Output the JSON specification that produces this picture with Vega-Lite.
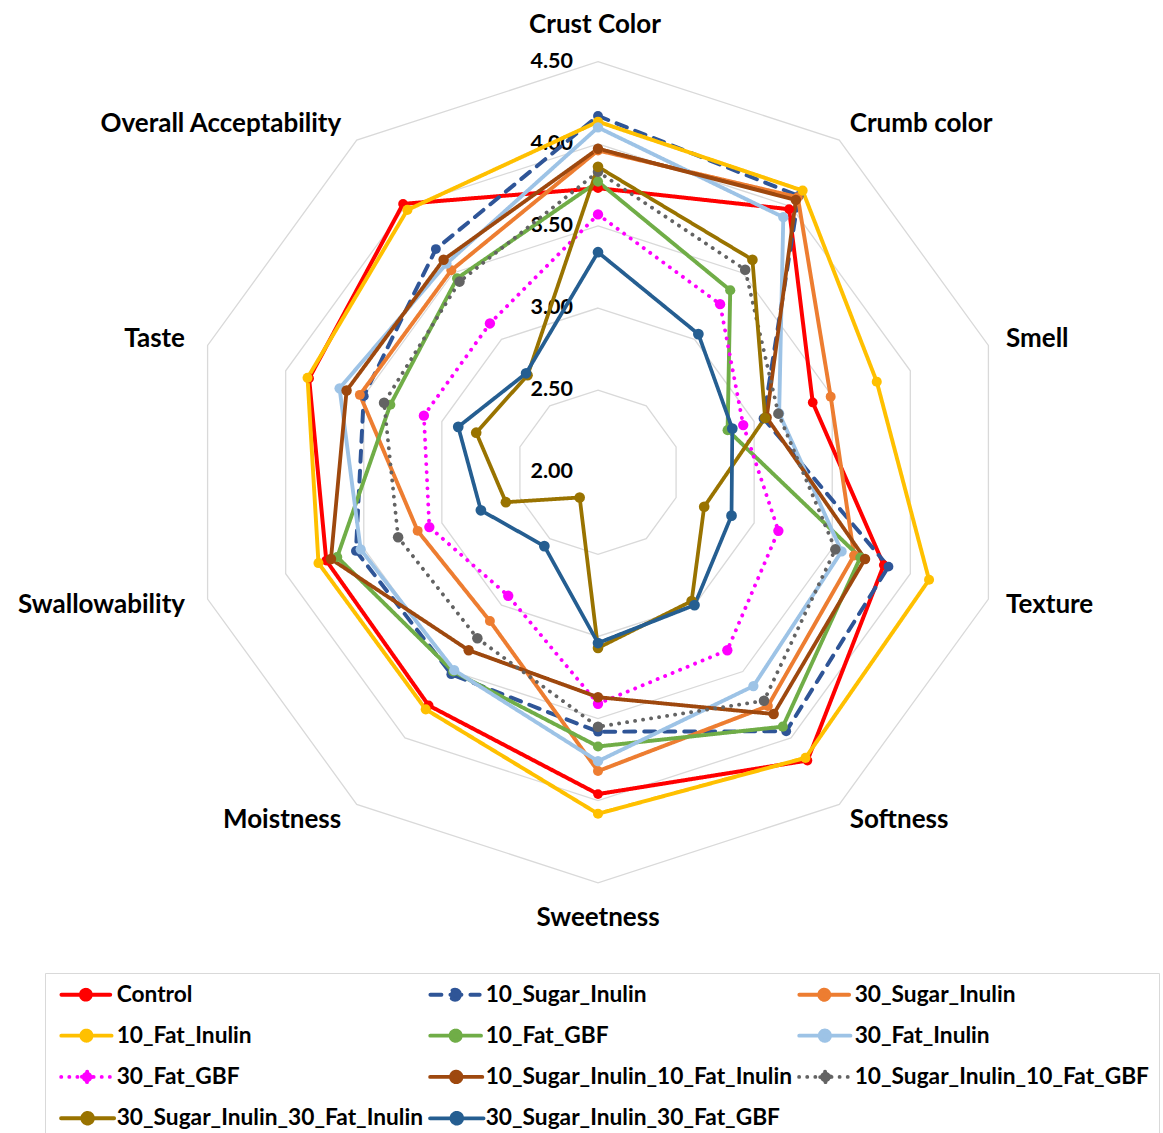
{
  "$schema": "https://vega.github.io/schema/vega-lite/v6.json",
  "width": 1163,
  "height": 1133,
  "autosize": {"type": "none"},
  "padding": 0,
  "background": "white",
  "config": {
    "view": {"stroke": null},
    "font": "Lato",
    "legend": {
      "orient": "none",
      "legendX": 45,
      "legendY": 973,
      "direction": "horizontal",
      "columns": 3,
      "padding": 10,
      "strokeColor": "#d9d9d9",
      "fillColor": "white",
      "title": null,
      "labelFont": "Lato",
      "labelFontSize": 22.7,
      "labelFontWeight": "bold",
      "labelColor": "black",
      "labelLimit": 0,
      "labelOffset": 39,
      "rowPadding": 14.3,
      "columnPadding": -2,
      "symbolType": "M-1,0L9,0M5,0A1,1,0,1,1,3,0A1,1,0,1,1,5,0Z",
      "symbolSize": 100,
      "symbolStrokeWidth": 3.5
    }
  },
  "datasets": {
    "scores": [
      {"sample": "Control", "Crust Color": 3.73, "Crumb color": 3.98, "Smell": 3.375, "Texture": 3.83, "Softness": 4.17, "Sweetness": 3.96, "Moistness": 3.755, "Swallowability": 3.74, "Taste": 3.85, "Overall Acceptability": 4.02},
      {"sample": "10_Sugar_Inulin", "Crust Color": 4.17, "Crumb color": 4.08, "Smell": 3.06, "Texture": 3.86, "Softness": 3.95, "Sweetness": 3.58, "Moistness": 3.52, "Swallowability": 3.55, "Taste": 3.5, "Overall Acceptability": 3.68},
      {"sample": "30_Sugar_Inulin", "Crust Color": 3.96, "Crumb color": 4.07, "Smell": 3.49, "Texture": 3.64, "Softness": 3.76, "Sweetness": 3.82, "Moistness": 3.12, "Swallowability": 3.155, "Taste": 3.525, "Overall Acceptability": 3.52},
      {"sample": "10_Fat_Inulin", "Crust Color": 4.135, "Crumb color": 4.12, "Smell": 3.785, "Texture": 4.12, "Softness": 4.15, "Sweetness": 4.08, "Moistness": 3.785, "Swallowability": 3.79, "Taste": 3.86, "Overall Acceptability": 3.975},
      {"sample": "10_Fat_GBF", "Crust Color": 3.77, "Crumb color": 3.37, "Smell": 2.83, "Texture": 3.68, "Softness": 3.915, "Sweetness": 3.67, "Moistness": 3.5, "Swallowability": 3.67, "Taste": 3.33, "Overall Acceptability": 3.46},
      {"sample": "30_Fat_Inulin", "Crust Color": 4.1, "Crumb color": 3.92, "Smell": 3.16, "Texture": 3.56, "Softness": 3.61, "Sweetness": 3.76, "Moistness": 3.49, "Swallowability": 3.52, "Taste": 3.655, "Overall Acceptability": 3.57},
      {"sample": "30_Fat_GBF", "Crust Color": 3.57, "Crumb color": 3.265, "Smell": 2.93, "Texture": 3.155, "Softness": 3.34, "Sweetness": 3.41, "Moistness": 2.93, "Swallowability": 3.08, "Taste": 3.115, "Overall Acceptability": 3.12},
      {"sample": "10_Sugar_Inulin_10_Fat_Inulin", "Crust Color": 3.97, "Crumb color": 4.05, "Smell": 3.08, "Texture": 3.71, "Softness": 3.82, "Sweetness": 3.37, "Moistness": 3.34, "Swallowability": 3.71, "Taste": 3.61, "Overall Acceptability": 3.6},
      {"sample": "10_Sugar_Inulin_10_Fat_GBF", "Crust Color": 3.83, "Crumb color": 3.525, "Smell": 3.155, "Texture": 3.52, "Softness": 3.72, "Sweetness": 3.55, "Moistness": 3.25, "Swallowability": 3.28, "Taste": 3.37, "Overall Acceptability": 3.435},
      {"sample": "30_Sugar_Inulin_30_Fat_Inulin", "Crust Color": 3.86, "Crumb color": 3.6, "Smell": 3.07, "Texture": 2.68, "Softness": 2.97, "Sweetness": 3.07, "Moistness": 2.19, "Swallowability": 2.59, "Taste": 2.78, "Overall Acceptability": 2.73},
      {"sample": "30_Sugar_Inulin_30_Fat_GBF", "Crust Color": 3.34, "Crumb color": 3.04, "Smell": 2.86, "Texture": 2.855, "Softness": 3.0, "Sweetness": 3.04, "Moistness": 2.556, "Swallowability": 2.75, "Taste": 2.895, "Overall Acceptability": 2.745}
    ],
    "axes": [
      {"attribute": "Crust Color", "levels": [2, 2.5, 3, 3.5, 4, 4.5]},
      {"attribute": "Crumb color", "levels": [2, 2.5, 3, 3.5, 4, 4.5]},
      {"attribute": "Smell", "levels": [2, 2.5, 3, 3.5, 4, 4.5]},
      {"attribute": "Texture", "levels": [2, 2.5, 3, 3.5, 4, 4.5]},
      {"attribute": "Softness", "levels": [2, 2.5, 3, 3.5, 4, 4.5]},
      {"attribute": "Sweetness", "levels": [2, 2.5, 3, 3.5, 4, 4.5]},
      {"attribute": "Moistness", "levels": [2, 2.5, 3, 3.5, 4, 4.5]},
      {"attribute": "Swallowability", "levels": [2, 2.5, 3, 3.5, 4, 4.5]},
      {"attribute": "Taste", "levels": [2, 2.5, 3, 3.5, 4, 4.5]},
      {"attribute": "Overall Acceptability", "levels": [2, 2.5, 3, 3.5, 4, 4.5]}
    ]
  },
  "layer": [
    {
      "data": {"name": "axes"},
      "transform": [
        {"flatten": ["levels"], "as": ["level"]},
        {"filter": "datum.level > 2"},
        {"calculate": "indexof(['Crust Color','Crumb color','Smell','Texture','Softness','Sweetness','Moistness','Swallowability','Taste','Overall Acceptability'], datum.attribute) * PI / 5", "as": "ang"},
        {"calculate": "(datum.level - 2) * sin(datum.ang)", "as": "gx"},
        {"calculate": "(datum.level - 2) * cos(datum.ang)", "as": "gy"}
      ],
      "mark": {"type": "line", "interpolate": "linear-closed", "color": "#d9d9d9", "strokeWidth": 1.3},
      "encoding": {
        "x": {"field": "gx", "type": "quantitative", "scale": {"domain": [-3.642, 3.441], "nice": false, "zero": false}, "axis": null},
        "y": {"field": "gy", "type": "quantitative", "scale": {"domain": [-4.024, 2.876], "nice": false, "zero": false}, "axis": null},
        "detail": {"field": "level", "type": "nominal"},
        "order": {"field": "ang", "type": "quantitative"}
      }
    },
    {
      "data": {"name": "axes"},
      "transform": [
        {"filter": "datum.attribute == 'Crust Color'"},
        {"flatten": ["levels"], "as": ["level"]},
        {"calculate": "datum.level - 2", "as": "ty"},
        {"calculate": "0", "as": "tx"}
      ],
      "mark": {"type": "text", "align": "right", "baseline": "middle", "dx": -25, "fontSize": 21.5, "fontWeight": "bold", "color": "black"},
      "encoding": {
        "x": {"field": "tx", "type": "quantitative", "scale": {"domain": [-3.642, 3.441], "nice": false, "zero": false}, "axis": null},
        "y": {"field": "ty", "type": "quantitative", "scale": {"domain": [-4.024, 2.876], "nice": false, "zero": false}, "axis": null},
        "text": {"field": "level", "type": "quantitative", "format": ".2f"}
      }
    },
    {
      "data": {"name": "scores"},
      "transform": [
        {"fold": ["Crust Color", "Crumb color", "Smell", "Texture", "Softness", "Sweetness", "Moistness", "Swallowability", "Taste", "Overall Acceptability"], "as": ["attribute", "score"]},
        {"calculate": "indexof(['Crust Color','Crumb color','Smell','Texture','Softness','Sweetness','Moistness','Swallowability','Taste','Overall Acceptability'], datum.attribute)", "as": "idx"},
        {"calculate": "(datum.score - 2) * sin(datum.idx * PI / 5)", "as": "px"},
        {"calculate": "(datum.score - 2) * cos(datum.idx * PI / 5)", "as": "py"}
      ],
      "layer": [
        {
          "mark": {"type": "line", "interpolate": "linear-closed", "strokeCap": "round", "strokeJoin": "round"},
          "encoding": {
            "x": {"field": "px", "type": "quantitative", "scale": {"domain": [-3.642, 3.441], "nice": false, "zero": false}, "axis": null},
            "y": {"field": "py", "type": "quantitative", "scale": {"domain": [-4.024, 2.876], "nice": false, "zero": false}, "axis": null},
            "order": {"field": "idx", "type": "quantitative"},
            "color": {
              "field": "sample", "type": "nominal",
              "scale": {
                "domain": ["Control", "10_Sugar_Inulin", "30_Sugar_Inulin", "10_Fat_Inulin", "10_Fat_GBF", "30_Fat_Inulin", "30_Fat_GBF", "10_Sugar_Inulin_10_Fat_Inulin", "10_Sugar_Inulin_10_Fat_GBF", "30_Sugar_Inulin_30_Fat_Inulin", "30_Sugar_Inulin_30_Fat_GBF"],
                "range": ["#ff0000", "#2f5597", "#ed7d31", "#ffc000", "#70ad47", "#9dc3e6", "#ff00ff", "#9e480e", "#636363", "#997300", "#255e91"]
              },
              "legend": {
                "symbolSize": 100,
                "encode": {
                  "symbols": {"update": {
                    "fill": {"scale": "color", "field": "value"},
                    "stroke": {"scale": "color", "field": "value"},
                    "size": {"value": 100},
                    "strokeWidth": {"value": 3.5},
                    "strokeCap": {"value": "round"}
                  }}
                }
              }
            },
            "strokeDash": {
              "field": "sample", "type": "nominal",
              "scale": {
                "domain": ["Control", "10_Sugar_Inulin", "30_Sugar_Inulin", "10_Fat_Inulin", "10_Fat_GBF", "30_Fat_Inulin", "30_Fat_GBF", "10_Sugar_Inulin_10_Fat_Inulin", "10_Sugar_Inulin_10_Fat_GBF", "30_Sugar_Inulin_30_Fat_Inulin", "30_Sugar_Inulin_30_Fat_GBF"],
                "range": [[1, 0], [11, 9], [1, 0], [1, 0], [1, 0], [1, 0], [0.1, 8], [1, 0], [0.1, 8], [1, 0], [1, 0]]
              }
            },
            "strokeWidth": {
              "field": "sample", "type": "nominal", "legend": null,
              "scale": {
                "domain": ["Control", "10_Sugar_Inulin", "30_Sugar_Inulin", "10_Fat_Inulin", "10_Fat_GBF", "30_Fat_Inulin", "30_Fat_GBF", "10_Sugar_Inulin_10_Fat_Inulin", "10_Sugar_Inulin_10_Fat_GBF", "30_Sugar_Inulin_30_Fat_Inulin", "30_Sugar_Inulin_30_Fat_GBF"],
                "range": [4, 3.75, 4, 4.25, 3.75, 4, 4.75, 4, 4.75, 3.75, 3.75]
              }
            }
          }
        },
        {
          "mark": {"type": "point", "filled": true, "opacity": 1},
          "encoding": {
            "x": {"field": "px", "type": "quantitative", "scale": {"domain": [-3.642, 3.441], "nice": false, "zero": false}, "axis": null},
            "y": {"field": "py", "type": "quantitative", "scale": {"domain": [-4.024, 2.876], "nice": false, "zero": false}, "axis": null},
            "color": {"field": "sample", "type": "nominal"},
            "size": {
              "field": "sample", "type": "nominal", "legend": null,
              "scale": {
                "domain": ["Control", "10_Sugar_Inulin", "30_Sugar_Inulin", "10_Fat_Inulin", "10_Fat_GBF", "30_Fat_Inulin", "30_Fat_GBF", "10_Sugar_Inulin_10_Fat_Inulin", "10_Sugar_Inulin_10_Fat_GBF", "30_Sugar_Inulin_30_Fat_Inulin", "30_Sugar_Inulin_30_Fat_GBF"],
                "range": [95, 115, 95, 105, 95, 110, 160, 100, 160, 105, 110]
              }
            }
          }
        }
      ]
    },
    {
      "data": {"name": "axes"},
      "transform": [
        {"calculate": "indexof(['Crust Color','Crumb color','Smell','Texture','Softness','Sweetness','Moistness','Swallowability','Taste','Overall Acceptability'], datum.attribute)", "as": "idx"},
        {"calculate": "2.619 * sin(datum.idx * PI / 5)", "as": "lx"},
        {"calculate": "2.619 * cos(datum.idx * PI / 5)", "as": "ly"}
      ],
      "layer": [
        {
          "transform": [{"filter": "datum.idx >= 1 && datum.idx <= 4"}],
          "mark": {"type": "text", "align": "left", "baseline": "middle", "dx": -1, "fontSize": 26, "fontWeight": "bold", "color": "black"},
          "encoding": {
            "x": {"field": "lx", "type": "quantitative", "scale": {"domain": [-3.642, 3.441], "nice": false, "zero": false}, "axis": null},
            "y": {"field": "ly", "type": "quantitative", "scale": {"domain": [-4.024, 2.876], "nice": false, "zero": false}, "axis": null},
            "text": {"field": "attribute"}
          }
        },
        {
          "transform": [{"filter": "datum.idx >= 6"}],
          "mark": {"type": "text", "align": "right", "baseline": "middle", "dx": -4, "fontSize": 26, "fontWeight": "bold", "color": "black"},
          "encoding": {
            "x": {"field": "lx", "type": "quantitative", "scale": {"domain": [-3.642, 3.441], "nice": false, "zero": false}, "axis": null},
            "y": {"field": "ly", "type": "quantitative", "scale": {"domain": [-4.024, 2.876], "nice": false, "zero": false}, "axis": null},
            "text": {"field": "attribute"}
          }
        },
        {
          "transform": [{"filter": "datum.idx == 0"}],
          "mark": {"type": "text", "align": "center", "baseline": "middle", "dx": -3, "dy": -17, "fontSize": 26, "fontWeight": "bold", "color": "black"},
          "encoding": {
            "x": {"field": "lx", "type": "quantitative", "scale": {"domain": [-3.642, 3.441], "nice": false, "zero": false}, "axis": null},
            "y": {"field": "ly", "type": "quantitative", "scale": {"domain": [-4.024, 2.876], "nice": false, "zero": false}, "axis": null},
            "text": {"field": "attribute"}
          }
        },
        {
          "transform": [{"filter": "datum.idx == 5"}],
          "mark": {"type": "text", "align": "center", "baseline": "middle", "dy": 16, "fontSize": 26, "fontWeight": "bold", "color": "black"},
          "encoding": {
            "x": {"field": "lx", "type": "quantitative", "scale": {"domain": [-3.642, 3.441], "nice": false, "zero": false}, "axis": null},
            "y": {"field": "ly", "type": "quantitative", "scale": {"domain": [-4.024, 2.876], "nice": false, "zero": false}, "axis": null},
            "text": {"field": "attribute"}
          }
        }
      ]
    }
  ]
}
